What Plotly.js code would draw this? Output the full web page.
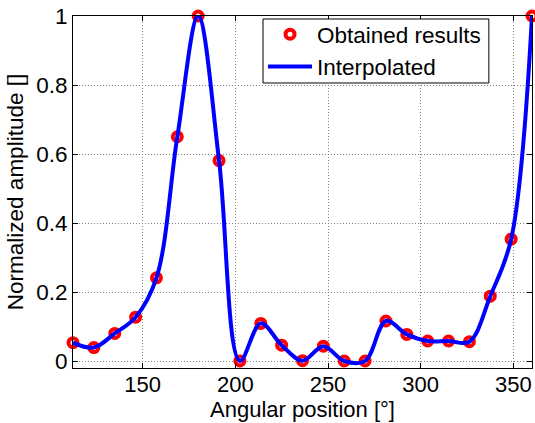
<!DOCTYPE html>
<html>
<head>
<meta charset="utf-8">
<script src="https://cdn.plot.ly/plotly-3.0.1.min.js"></script>
<style>html,body{margin:0;padding:0;background:#fff;}#chart{width:535px;height:423px;}</style>
</head>
<body>
<div id="chart"></div>
<script>
// Data
const angles = [112.5, 123.75, 135, 146.25, 157.5, 168.75, 180, 191.25, 202.5, 213.75, 225, 236.25,
                247.5, 258.75, 270, 281.25, 292.5, 303.75, 315, 326.25, 337.5, 348.75, 360];
const amplitude = [0.053, 0.039, 0.080, 0.127, 0.241, 0.650, 1.000, 0.581, 0.000, 0.109, 0.046, 0.001,
                   0.043, 0.000, 0.000, 0.116, 0.077, 0.058, 0.058, 0.056, 0.188, 0.353, 1.000];
const xTicks = [150, 200, 250, 300, 350];
const yTicks = [0, 0.2, 0.4, 0.6, 0.8, 1];
const yTickLabels = ['0', '0.2', '0.4', '0.6', '0.8', '1'];
const seriesNames = ['Obtained results', 'Interpolated'];

const font = 'Arial, "Liberation Sans", sans-serif';
const fs = 22.5;

const traces = [
  {
    x: angles, y: amplitude, name: seriesNames[0], type: 'scatter', mode: 'markers',
    marker: {symbol: 'circle-open', size: 9, color: '#ff0000', line: {width: 4, color: '#ff0000'}},
    cliponaxis: false
  },
  {
    x: angles, y: amplitude, name: seriesNames[1], type: 'scatter', mode: 'lines',
    line: {color: '#0000ff', width: 4, shape: 'spline', smoothing: 1}
  }
];

const axisCommon = {
  showline: true, linecolor: '#000', linewidth: 1, mirror: 'ticks',
  ticks: 'inside', ticklen: 5, tickcolor: '#000', tickwidth: 1,
  showgrid: true, gridcolor: '#808080', gridwidth: 1, griddash: '1px,2px',
  zeroline: false,
  tickfont: {family: font, size: fs, color: '#000'}
};

const layout = {
  width: 535, height: 423,
  margin: {l: 73, r: 3, t: 16, b: 55},
  paper_bgcolor: '#fff', plot_bgcolor: '#fff',
  showlegend: true,
  legend: {
    x: 0.414, y: 1.0085, xanchor: 'left', yanchor: 'top',
    bgcolor: 'rgba(0,0,0,0)', borderwidth: 0,
    font: {family: font, size: fs, color: '#000'},
    itemwidth: 44, tracegroupgap: 0
  },
  // legend frame (decoration only)
  shapes: [{
    type: 'rect', xref: 'paper', yref: 'paper', layer: 'above',
    x0: 0.414, x1: 0.906, y0: 0.8097, y1: 0.9915,
    fillcolor: '#fff', line: {color: '#000', width: 1}
  }],
  xaxis: Object.assign({}, axisCommon, {
    range: [112.5, 360], tickvals: xTicks,
    tickfont: {family: font, size: 22, color: '#000'},
    ticklabelstandoff: -3,
    title: {text: 'Angular position [°]', font: {family: font, size: 22, color: '#000'}, standoff: 4}
  }),
  yaxis: Object.assign({}, axisCommon, {
    range: [-0.0203, 1], tickvals: yTicks, ticktext: yTickLabels,
    title: {text: 'Normalized amplitude []', font: {family: font, size: fs, color: '#000'}, standoff: 6}
  })
};

Plotly.newPlot('chart', traces, layout, {displayModeBar: false, staticPlot: true});
</script>
</body>
</html>
